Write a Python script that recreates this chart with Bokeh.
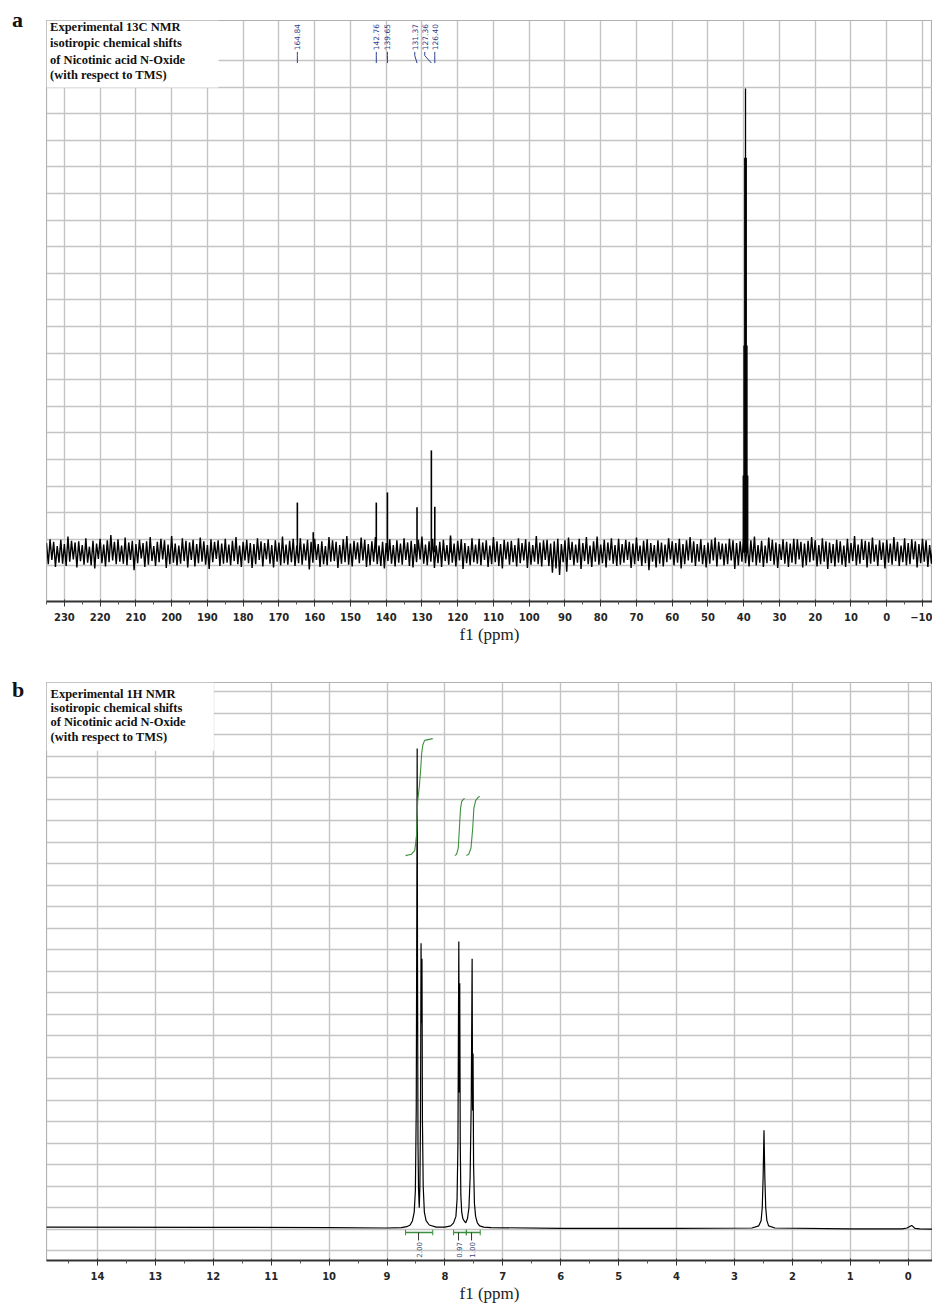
import numpy as np
from bokeh.plotting import figure
from bokeh.layouts import column, row
from bokeh.models import Range1d, FixedTicker, Label, BoxAnnotation, Grid, Div
from bokeh.core.properties import value
from bokeh.embed import file_html
from bokeh.resources import INLINE

# ---------------- Panel a : 13C NMR ----------------
c13_ticks = [230, 220, 210, 200, 190, 180, 170, 160, 150, 140, 130, 120, 110,
             100, 90, 80, 70, 60, 50, 40, 30, 20, 10, 0, -10]
c13_minor = [235, 225, 215, 205, 195, 185, 175, 165, 155, 145, 135, 125, 115,
             105, 95, 85, 75, 65, 55, 45, 35, 25, 15, 5, -5]
c13_peak_ppm = [164.84, 160.4, 142.76, 139.65, 131.37, 127.36, 126.40, 122.0]
c13_peak_int = [9.4, 3.8, 9.4, 11.3, 8.5, 19.2, 8.6, 3.2]
dmso_c_ppm = [38.87, 39.08, 39.29, 39.50, 39.71, 39.92, 40.13]
dmso_c_int = [14.5, 38.9, 74.2, 87.2, 74.2, 38.9, 14.5]
c13_labels = ["164.84", "142.76", "139.65", "131.37", "127.36", "126.40"]
c13_label_peak = [164.84, 142.76, 139.65, 131.37, 127.36, 126.40]
c13_label_pos = [164.84, 142.76, 139.65, 132.0, 129.2, 126.4]
noise_start = 235.0
noise_step = 0.5
noise = [
    18, -22, 25, -14, 20, -27, 12, -19, 24, -21, 16, -25, 30, -17, 22, -13, 19, -28, 21, -16,
    14, -23, 27, -19, 11, -24, 22, -30, 17, -12, 26, -20, 15, -26, 23, -18, 33, -15, 20, -22,
    25, -17, 13, -21, 28, -24, 19, -14, 22, -33, 16, -20, 24, -11, 18, -27, 21, -23, 29, -16,
    12, -25, 20, -18, 26, -13, 23, -29, 15, -22, 31, -19, 17, -24, 13, -21, 27, -16, 22, -28,
    19, -14, 24, -26, 16, -20, 28, -17, 21, -23, 14, -31, 25, -18, 20, -12, 23, -25, 17, -21,
    26, -19, 15, -24, 22, -16, 29, -22, 13, -27, 20, -15, 24, -20, 18, -29, 16, -22, 27, -14,
    21, -26, 18, -13, 25, -21, 14, -28, 23, -17, 19, -24, 30, -20, 15, -23, 22, -18, 26, -25,
    13, -20, 27, -23, 17, -15, 24, -32, 20, -19, 26, -14, 16, -27, 21, -22, 12, -24, 29, -17,
    23, -16, 20, -29, 14, -21, 25, -18, 31, -23, 17, -26, 22, -13, 19, -20, 28, -15, 24, -27,
    16, -24, 21, -17, 29, -22, 13, -25, 20, -30, 18, -16, 25, -21, 14, -26, 23, -19, 17, -23,
    27, -14, 19, -25, 22, -28, 16, -18, 24, -13, 30, -21, 15, -24, 21, -17, 26, -29, 13, -20,
    20, -27, 24, -16, 14, -23, 28, -19, 17, -26, 22, -15, 25, -31, 18, -20, 12, -24, 27, -18,
    15, -21, 26, -24, 19, -14, 23, -27, 13, -22, 29, -18, 21, -25, 16, -30, 24, -13, 20, -23,
    22, -18, 14, -26, 27, -20, 18, -15, 25, -29, 20, -23, 14, -17, 31, -22, 19, -26, 23, -14,
    24, -25, 17, -38, 21, -30, 26, -42, 16, -18, 23, -36, 28, -14, 20, -24, 15, -19, 26, -31,
    18, -16, 29, -22, 13, -27, 21, -17, 30, -23, 15, -20, 24, -28, 19, -15, 27, -21, 14, -25,
    26, -23, 16, -19, 24, -14, 20, -29, 17, -22, 28, -16, 13, -25, 22, -20, 25, -33, 18, -17,
    14, -28, 23, -21, 19, -26, 15, -18, 27, -13, 21, -24, 18, -19, 26, -30, 16, -22, 23, -15,
    29, -19, 21, -25, 16, -17, 25, -22, 14, -28, 19, -21, 24, -15, 28, -26, 20, -13, 17, -24,
    17, -22, 26, -15, 23, -31, 18, -24, 21, -17, 27, -20, 15, -26, 23, -18, 30, -24, 14, -19,
    22, -27, 13, -20, 28, -16, 24, -23, 19, -29, 16, -14, 25, -21, 20, -27, 17, -19, 26, -22,
    25, -13, 20, -28, 17, -24, 22, -18, 29, -15, 23, -26, 14, -22, 27, -17, 21, -31, 19, -20,
    16, -26, 24, -19, 21, -23, 13, -27, 26, -20, 18, -16, 31, -24, 15, -21, 25, -14, 22, -28,
    20, -21, 28, -17, 15, -25, 23, -14, 19, -30, 24, -19, 17, -23, 29, -16, 20, -25, 13, -18,
    27, -24, 18, -22, 25, -13, 21, -28, 16, -20, 26, -17, 23, -27, 14, -21, 19, -24, 28, -16,
]
c13_title = ["Experimental 13C NMR", "isotiropic chemical shifts",
             "of Nicotinic acid N-Oxide", "(with respect to TMS)"]

# ---------------- Panel b : 1H NMR ----------------
h1_ticks = [14, 13, 12, 11, 10, 9, 8, 7, 6, 5, 4, 3, 2, 1, 0]
h1_minor = [14.5, 13.5, 12.5, 11.5, 10.5, 9.5, 8.5, 7.5, 6.5, 5.5, 4.5, 3.5, 2.5, 1.5, 0.5, -0.5]
h1_ppm = [14.90, 12.00, 10.00, 9.00, 8.75, 8.66, 8.60, 8.56, 8.53, 8.51,
          8.495, 8.485, 8.479, 8.473, 8.465, 8.455, 8.443, 8.432, 8.422, 8.412,
          8.404, 8.396, 8.388, 8.375, 8.355, 8.325, 8.27, 8.15, 8.00, 7.90,
          7.85, 7.81, 7.79, 7.775, 7.760, 7.752, 7.744, 7.735, 7.725, 7.71,
          7.69, 7.67, 7.64, 7.61, 7.585, 7.565, 7.545, 7.530, 7.522, 7.514,
          7.505, 7.49, 7.47, 7.44, 7.40, 7.33, 7.20, 6.00, 4.00, 2.70,
          2.58, 2.54, 2.52, 2.505, 2.490, 2.475, 2.46, 2.44, 2.41, 2.30,
          1.00, 0.10, 0.02, -0.06, -0.12, -0.20, -0.45]
h1_int = [0.5, 0.45, 0.4, 0.3, 0.4, 0.6, 1.0, 2.0, 4.0, 9.0,
          28, 75, 111.8, 62, 20, 9, 5.0, 10, 25, 66.5,
          47.9, 62.9, 25, 10, 4, 2, 1, 0.5, 0.5, 0.8,
          1.5, 3, 7, 20, 66.9, 31.8, 57.2, 20, 8, 4,
          2.5, 2.0, 1.5, 2.5, 5, 12, 30, 62.9, 27.6, 40.9,
          15, 6, 3, 1.5, 0.8, 0.5, 0.4, 0.2, 0.2, 0.3,
          0.8, 2, 5, 12, 23.0, 12, 5, 2, 0.8, 0.3,
          0.1, 0.1, 0.3, 0.9, 0.2, 0.1, 0.0]
int1_ppm = [8.68, 8.58, 8.52, 8.49, 8.47, 8.44, 8.42, 8.40, 8.38, 8.35, 8.21]
int1_val = [86.9, 87.2, 88.1, 91.6, 99.7, 103.2, 106.7, 110.9, 112.7, 113.7, 114.1]
int2_ppm = [7.83, 7.80, 7.77, 7.75, 7.73, 7.71, 7.68, 7.66]
int2_val = [86.9, 87.2, 88.6, 93.2, 97.9, 99.5, 100.0, 100.2]
int3_ppm = [7.63, 7.59, 7.55, 7.52, 7.50, 7.47, 7.43, 7.40]
int3_val = [86.9, 87.2, 88.6, 93.2, 97.9, 99.7, 100.4, 100.7]
int_labels = ["2.00", "0.97", "1.00"]
int_label_ppm = [8.455, 7.765, 7.54]
int_bar_start = [8.68, 7.85, 7.63]
int_bar_end = [8.21, 7.63, 7.39]
h1_title = ["Experimental  1H NMR", "isotiropic chemical shifts",
            "of Nicotinic acid N-Oxide", "(with respect to TMS)"]

GRID = "#c4c4c4"
GREEN = "#3d8f3d"
BLUE = "#2b3f8f"
TICK_FONT = "DejaVu Sans"


def style_axis(p, ticks, minor, label_standoff, title_standoff):
    ax = p.xaxis[0]
    ax.ticker = FixedTicker(ticks=ticks, minor_ticks=minor)
    ax.axis_label = "f1 (ppm)"
    ax.axis_label_text_font = "Liberation Serif"
    ax.axis_label_text_font_size = "17px"
    ax.axis_label_text_font_style = "normal"
    ax.axis_label_text_color = "#222222"
    ax.axis_label_standoff = title_standoff
    ax.major_label_text_font = TICK_FONT
    ax.major_label_text_font_size = "10px"
    ax.major_label_text_font_style = "bold"
    ax.major_label_text_color = "#262626"
    ax.major_label_standoff = label_standoff
    ax.axis_line_color = "#333333"
    ax.axis_line_width = 2
    ax.major_tick_line_color = "#333333"
    ax.major_tick_out = 5
    ax.major_tick_in = 2
    ax.minor_tick_line_color = "#555555"
    ax.minor_tick_out = 3
    ax.minor_tick_in = 0
    p.xgrid.grid_line_color = GRID
    p.xgrid.grid_line_width = 1.4
    p.outline_line_color = "#b0b0b0"
    p.outline_line_width = 1.2


def letter_div(letter, height, top_pad):
    return Div(text=letter, width=46, height=height, margin=(0, 0, 0, 0),
               styles={"font-family": "Liberation Serif", "font-size": "22px",
                       "font-weight": "bold", "color": "#111111",
                       "padding-left": "12px", "padding-top": f"{top_pad}px",
                       "line-height": "22px"})


# ---------- figure a ----------
p1 = figure(width=886, height=650, output_backend="svg", toolbar_location=None,
            x_range=Range1d(235, -12.8), y_range=Range1d(-9.2, 100),
            y_axis_location=None, min_border_left=0, min_border_right=0,
            min_border_top=20, min_border_bottom=49)
style_axis(p1, c13_ticks, c13_minor, 6, 1)
p1.ygrid.visible = False
p1.add_layout(Grid(dimension=1, ticker=FixedTicker(ticks=[-2.5 + 5 * k for k in range(20)]),
                   grid_line_color=GRID, grid_line_width=1.4))

noise_x = noise_start - noise_step * np.arange(len(noise))
p1.line(noise_x, np.array(noise) / 10.0, line_color="black", line_width=1.4)
p1.segment(x0=c13_peak_ppm, y0=[0] * len(c13_peak_ppm), x1=c13_peak_ppm, y1=c13_peak_int,
           line_color="black", line_width=1.6)
p1.segment(x0=dmso_c_ppm, y0=[0] * len(dmso_c_ppm), x1=dmso_c_ppm, y1=dmso_c_int,
           line_color="black", line_width=1.3)

p1.add_layout(BoxAnnotation(left=235, right=186.9, top=100, bottom=87.4,
                            fill_color="white", fill_alpha=1.0, line_alpha=0))
p1.multi_line(xs=[[lp, lp, pk] for lp, pk in zip(c13_label_pos, c13_label_peak)],
              ys=[[94.1, 93.4, 92.0]] * len(c13_labels), line_color=BLUE, line_width=1)
p1.text(x=c13_label_pos, y=[94.4] * len(c13_labels), text=c13_labels, angle=np.pi / 2,
        text_align="left", text_baseline="middle", text_font=value(TICK_FONT),
        text_font_size="7.5px", text_color=BLUE)
for t, yy in zip(c13_title, [98.7, 95.7, 92.6, 89.8]):
    p1.add_layout(Label(x=234.0, y=yy, text=t, text_font="Liberation Serif",
                        text_font_size="12.5px", text_font_style="bold",
                        text_baseline="middle", text_align="left", text_color="#111111"))

# ---------- figure b ----------
p2 = figure(width=886, height=655, output_backend="svg", toolbar_location=None,
            x_range=Range1d(14.88, -0.42), y_range=Range1d(-7.26, 127.16),
            y_axis_location=None, min_border_left=0, min_border_right=0,
            min_border_top=32, min_border_bottom=45)
style_axis(p2, h1_ticks, h1_minor, 6, 1)
p2.ygrid.visible = False
p2.add_layout(Grid(dimension=1, ticker=FixedTicker(ticks=[-5 + 5 * k for k in range(27)]),
                   grid_line_color=GRID, grid_line_width=1.4))

p2.line(h1_ppm, h1_int, line_color="black", line_width=1.2)
for xs, ys in [(int1_ppm, int1_val), (int2_ppm, int2_val), (int3_ppm, int3_val)]:
    p2.line(xs, ys, line_color=GREEN, line_width=1.1)
p2.segment(x0=int_bar_start, y0=[-0.75] * 3, x1=int_bar_end, y1=[-0.75] * 3,
           line_color=GREEN, line_width=1.6)
p2.segment(x0=int_bar_start + int_bar_end, y0=[-0.1] * 6, x1=int_bar_start + int_bar_end,
           y1=[-1.4] * 6, line_color=GREEN, line_width=1)
p2.segment(x0=int_label_ppm, y0=[-0.75] * 3, x1=int_label_ppm, y1=[-2.6] * 3,
           line_color="#333333", line_width=1)
p2.text(x=int_label_ppm, y=[-6.6] * 3, text=int_labels, angle=np.pi / 2,
        text_align="left", text_baseline="middle", text_font=value(TICK_FONT),
        text_font_size="7px", text_color="#3a4a7a")

p2.add_layout(BoxAnnotation(left=14.88, right=11.99, top=127.16, bottom=111.3,
                            fill_color="white", fill_alpha=1.0, line_alpha=0))
for t, yy in zip(h1_title, [124.6, 121.3, 117.9, 114.6]):
    p2.add_layout(Label(x=14.81, y=yy, text=t, text_font="Liberation Serif",
                        text_font_size="12.5px", text_font_style="bold",
                        text_baseline="middle", text_align="left", text_color="#111111"))

layout = column(row(letter_div("a", 650, 9), p1, spacing=0),
                row(letter_div("b", 655, 29), p2, spacing=0), spacing=0)
open("out.html", "w").write(file_html(layout, INLINE))
